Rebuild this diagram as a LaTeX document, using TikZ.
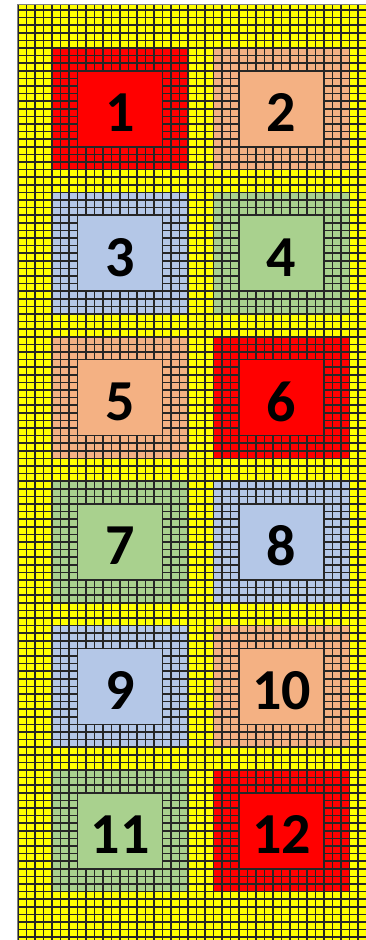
\documentclass[tikz,border=0pt]{standalone}
\usepackage{fontspec}
\setmainfont{Carlito}
\definecolor{cYel}{RGB}{255,255,0}
\definecolor{cRed}{RGB}{255,0,0}
\definecolor{cSal}{RGB}{244,177,131}
\definecolor{cBlu}{RGB}{180,199,231}
\definecolor{cGrn}{RGB}{169,209,142}
\begin{document}
\begin{tikzpicture}[x=8.5pt,y=-7.6pt,
  gridline/.style={draw=black!85,line width=1.5pt},
  num/.style={font=\fontsize{58}{58}\selectfont\bfseries,text=black,inner sep=0pt,yshift=-4pt}]
\useasboundingbox (-52pt,48pt) rectangle (314pt,-892pt);
\fill[cYel] (-34pt,44pt) rectangle (314.5pt,-892pt);
\foreach \c/\r/\col/\lab in {0/0/cRed/1,1/0/cSal/2,0/1/cBlu/3,1/1/cGrn/4,0/2/cSal/5,1/2/cRed/6,
  0/3/cGrn/7,1/3/cBlu/8,0/4/cBlu/9,1/4/cSal/10,0/5/cGrn/11,1/5/cRed/12}
  \fill[\col] (\c*19,\r*19) rectangle ++(16,16);
\begin{scope}
  \clip (-34pt,44pt) rectangle (314.5pt,-892pt);
  \foreach \i in {-4,...,37} \draw[gridline] (\i,-6) -- (\i,118);
  \foreach \j in {-6,...,118} \draw[gridline] (-4,\j) -- (37,\j);
\end{scope}
\foreach \c/\r/\col/\lab in {0/0/cRed/1,1/0/cSal/2,0/1/cBlu/3,1/1/cGrn/4,0/2/cSal/5,1/2/cRed/6,
  0/3/cGrn/7,1/3/cBlu/8,0/4/cBlu/9,1/4/cSal/10,0/5/cGrn/11,1/5/cRed/12}
{
  \filldraw[gridline,fill=\col] (\c*19+3,\r*19+3) rectangle ++(10,10);
  \node[num] (n\lab) at (\c*19+8,\r*19+8) {\lab};
}
\draw[draw=gray,line width=1pt] (-34pt,44pt) rectangle (314.5pt,-892pt);
\end{tikzpicture}
\end{document}
